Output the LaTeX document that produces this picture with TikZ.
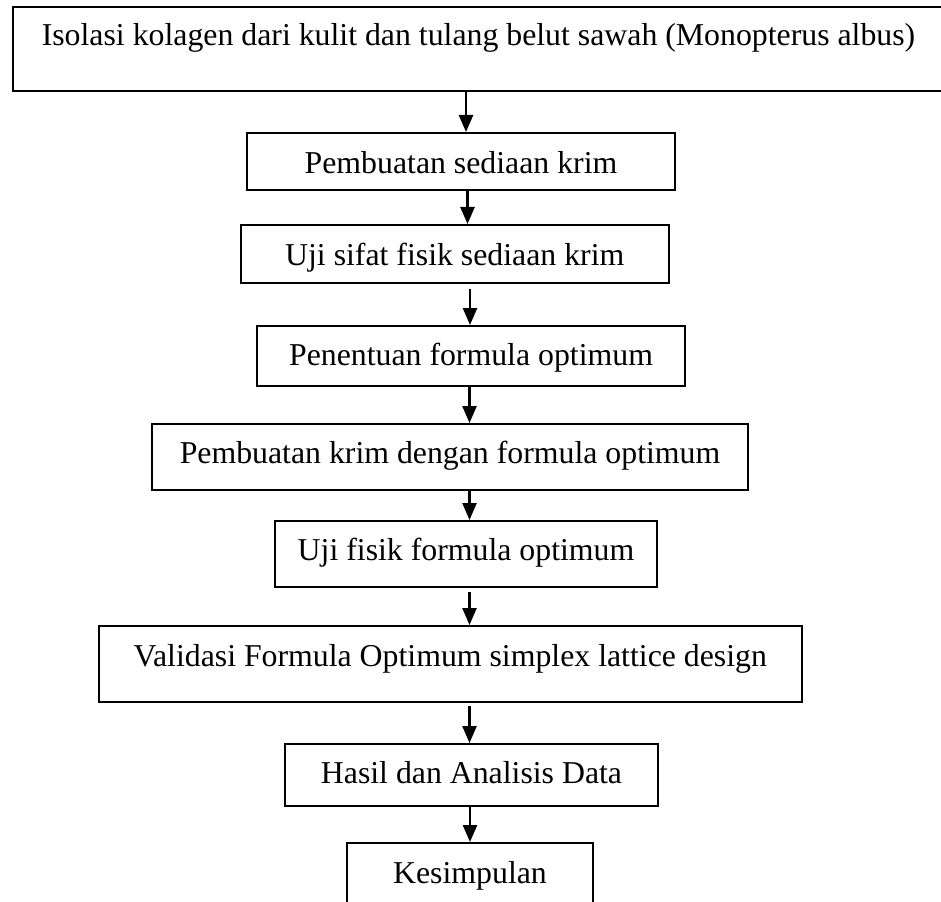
\documentclass[tikz,border=0pt]{standalone}
\usepackage{fontspec}
\setmainfont{Liberation Serif}
\usetikzlibrary{arrows.meta}
\begin{document}
\begin{tikzpicture}[x=1pt,y=-1pt,
  stepbox/.style={draw=black,line width=2pt,inner sep=0pt,anchor=base,
    font=\fontsize{31.8}{38}\selectfont},
  arr/.style={line width=2.5pt,-{Triangle[width=14pt,length=17pt]}}]
\useasboundingbox (0,0) rectangle (941,901);
% boxes: text height = baseline - top, text depth = bottom - baseline
\node[stepbox,minimum width=931pt,text height=38.7pt,text depth=45.3pt] (b1) at (478.5,45.7) {Isolasi kolagen dari kulit dan tulang belut sawah (Monopterus albus)};
\node[stepbox,minimum width=428pt,text height=41pt,text depth=16pt] (b2) at (461,174) {Pembuatan sediaan krim};
\node[stepbox,minimum width=427.5pt,text height=40pt,text depth=18pt] (b3) at (454.75,265) {Uji sifat fisik sediaan krim};
\node[stepbox,minimum width=428pt,text height=39pt,text depth=21pt] (b4) at (471,365) {Penentuan formula optimum};
\node[stepbox,minimum width=596pt,text height=39pt,text depth=27pt] (b5) at (450,463) {Pembuatan krim dengan formula optimum};
\node[stepbox,minimum width=382pt,text height=39pt,text depth=27pt] (b6) at (466,560) {Uji fisik formula optimum};
\node[stepbox,minimum width=702.5pt,text height=40pt,text depth=36pt] (b7) at (450.25,666) {Validasi Formula Optimum simplex lattice design};
\node[stepbox,minimum width=373pt,text height=39pt,text depth=23pt] (b8) at (471.5,783) {Hasil dan Analisis Data};
\node[stepbox,minimum width=246pt,text height=40pt,text depth=24pt] (b9) at (470,883) {Kesimpulan};
% arrow x positions
\coordinate (x1) at (466,0);
\coordinate (x2) at (467.5,0);
\coordinate (x3) at (470,0);
\coordinate (x4) at (469.5,0);
\coordinate (x5) at (469.5,0);
\coordinate (x6) at (469.5,0);
\coordinate (x7) at (469.5,0);
\coordinate (x8) at (470,0);
\draw[arr] (b1.south -| x1) -- (b2.north -| x1);
\draw[arr] (b2.south -| x2) -- (b3.north -| x2);
\draw[arr,shorten <=5pt] (b3.south -| x3) -- (b4.north -| x3);
\draw[arr] (b4.south -| x4) -- (b5.north -| x4);
\draw[arr] (b5.south -| x5) -- (b6.north -| x5);
\draw[arr,shorten <=4pt] (b6.south -| x6) -- (b7.north -| x6);
\draw[arr,shorten <=3pt] (b7.south -| x7) -- (b8.north -| x7);
\draw[arr] (b8.south -| x8) -- (b9.north -| x8);
\end{tikzpicture}
\end{document}
